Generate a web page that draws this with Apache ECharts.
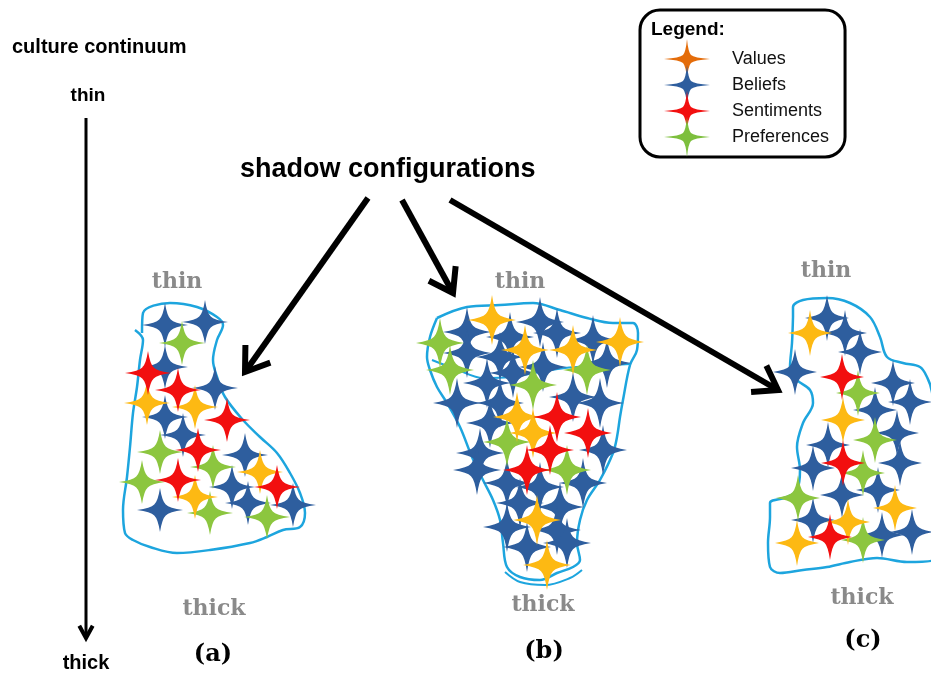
<!DOCTYPE html>
<html><head><meta charset="utf-8">
<script src="https://cdn.jsdelivr.net/npm/echarts@6/dist/echarts.min.js"></script>
<style>html,body{margin:0;padding:0;background:#fff}#c{width:931px;height:673px}</style>
</head><body><div id="c"></div>
<script>
// ---------------- data ----------------
const categories = ['Values', 'Beliefs', 'Sentiments', 'Preferences'];
const panelNames = ['(a)', '(b)', '(c)'];

// star positions per category, per panel (a, b, c)
const valuesA = [[147,403],[195,407],[260,472],[195,497]];
const valuesB = [[492,320],[525,350],[573,350],[620,342],[517,417],[533,433],[537,520],[547,565]];
const valuesC = [[810,333],[843,420],[895,508],[848,522],[797,543]];

const beliefsA = [[165,325],[205,322],[165,367],[215,388],[165,417],[183,435],[245,455],[232,487],[248,503],[293,505],[160,510]];
const beliefsB = [[467,332],[510,337],[540,322],[557,333],[593,340],[467,353],[500,357],[487,383],[513,373],[543,367],[607,363],[457,403],[500,403],[573,397],[600,403],[490,423],[480,453],[603,450],[477,470],[507,483],[540,487],[583,483],[520,503],[560,507],[507,527],[557,530],[527,547],[567,543]];
const beliefsC = [[827,318],[845,333],[860,352],[795,372],[893,383],[910,402],[875,410],[897,433],[828,445],[813,468],[900,463],[842,495],[878,490],[813,520],[912,532],[882,535]];

const sentimentsA = [[148,373],[178,390],[227,420],[198,450],[178,480],[277,487]];
const sentimentsB = [[557,417],[588,433],[550,450],[527,470]];
const sentimentsC = [[842,377],[843,463],[830,537]];

const preferencesA = [[182,343],[160,452],[213,467],[142,482],[210,513],[267,517]];
const preferencesB = [[440,343],[450,370],[533,385],[587,370],[507,442],[567,470]];
const preferencesC = [[858,393],[875,440],[863,473],[798,498],[863,540]];

// hand-drawn outlines of the three shadow configurations
const blobA = [[142,333],[143,313],[170,303],[197,307],[217,317],[223,325],[217,340],[213,360],[217,377],[225,397],[243,420],[260,437],[277,453],[290,473],[300,493],[305,513],[300,527],[283,530],[267,537],[250,543],[210,550],[177,553],[150,547],[133,540],[125,533],[123,510],[127,477],[130,447],[133,413],[137,387],[140,360],[143,340],[135,330]];
const blobB = [[437,318],[467,307],[500,305],[533,303],[560,310],[587,318],[613,323],[633,323],[638,333],[637,350],[630,365],[623,400],[620,417],[617,437],[613,453],[600,480],[587,500],[580,520],[577,543],[580,560],[573,567],[557,573],[540,580],[520,577],[507,567],[503,543],[500,520],[493,500],[483,480],[472,457],[460,427],[447,403],[437,387],[430,370],[427,357],[430,337],[437,318]];
const blobBInner = [[432,360],[458,370],[483,378],[510,377],[540,372],[565,368],[595,366],[630,364]];
const blobBBottom = [[505,572],[520,582],[545,585],[570,578],[582,570]];
const blobC = [[793,317],[793,307],[803,300],[827,298],[850,303],[870,317],[880,337],[887,357],[903,363],[920,367],[927,377],[932,392],[935,430],[935,520],[933,560],[907,562],[877,558],[850,562],[827,567],[803,570],[780,573],[770,567],[768,543],[770,517],[770,503],[787,497],[797,490],[800,470],[797,447],[803,423],[813,403],[810,390],[797,380],[790,367],[792,343],[793,317]];

// arrows: start and tip
const arrowStarts = [[368,198],[402,200],[450,200]];
const arrowTips   = [[245,372],[453,293],[778,390]];
const axisArrowStart = [86,118];
const axisArrowTip   = [86,638];

// ---------------- styles ----------------
const chartColors  = {Values:'#FDB913', Beliefs:'#2E5E9E', Sentiments:'#F20F0F', Preferences:'#8CC63F'};
const legendColors = {Values:'#E46C0A', Beliefs:'#2E5E9E', Sentiments:'#F20F0F', Preferences:'#7DBF3D'};
const starSizes = [[46,44],[48,50],[44,46]];
const starPath = 'path://M0,-10 Q0.9,-4 2.5,-2.5 Q4,-0.9 10,0 Q4,0.9 2.5,2.5 Q0.9,4 0,10 Q-0.9,4 -2.5,2.5 Q-4,0.9 -10,0 Q-4,-0.9 -2.5,-2.5 Q-0.9,-4 0,-10 Z';
const legendStar = 'path://M0,-20 Q1.2,-7 4,-4 Q7,-1.2 23,0 Q7,1.2 4,4 Q1.2,7 0,20 Q-1.2,7 -4,4 Q-7,1.2 -23,0 Q-7,-1.2 -4,-4 Q-1.2,-7 0,-20 Z';
const outlineColor = '#1DA5DE';

const seriesData = {
  Values: [valuesA, valuesB, valuesC],
  Beliefs: [beliefsA, beliefsB, beliefsC],
  Sentiments: [sentimentsA, sentimentsB, sentimentsC],
  Preferences: [preferencesA, preferencesB, preferencesC]
};

function tag(name) {
  const out = [];
  seriesData[name].forEach((arr, p) => arr.forEach(pt => out.push([pt[0], pt[1], p])));
  return out;
}

function head(start, tip, len, ang) {
  const dx = start[0] - tip[0], dy = start[1] - tip[1];
  const d = Math.hypot(dx, dy), ux = dx / d, uy = dy / d;
  const r = a => [tip[0] + len * (ux * Math.cos(a) - uy * Math.sin(a)),
                  tip[1] + len * (ux * Math.sin(a) + uy * Math.cos(a))];
  return [r(ang), tip, r(-ang)];
}

const arrowLines = [];
arrowStarts.forEach((s, i) => {
  arrowLines.push({coords: [s, arrowTips[i]]});
  arrowLines.push({coords: head(s, arrowTips[i], 27, 0.6)});
});

const order = ['Beliefs', 'Preferences', 'Values', 'Sentiments'];
const series = [];

function outline(pts, w) {
  return {type:'line', data: pts, smooth: 0.35, symbol:'none', silent:true, clip:true,
          lineStyle:{color: outlineColor, width: w || 2.5}, z: 1};
}
series.push(outline(blobA), outline(blobB), outline(blobBInner, 2), outline(blobBBottom, 2), outline(blobC));

order.forEach(name => {
  series.push({
    name, type:'scatter', data: tag(name), symbol: starPath,
    symbolSize: v => starSizes[v[2]],
    itemStyle:{color: chartColors[name], opacity:1}, z: 3, silent:true
  });
});

series.push({
  type:'lines', coordinateSystem:'cartesian2d', polyline:true, silent:true, z: 5,
  data: arrowLines,
  lineStyle:{color:'#000', width:6, opacity:1, curveness:0, cap:'butt', join:'miter'}
});
series.push({
  type:'lines', coordinateSystem:'cartesian2d', polyline:true, silent:true, z: 5,
  data: [{coords:[axisArrowStart, axisArrowTip]}],
  lineStyle:{color:'#000', width:3, opacity:1, curveness:0, cap:'butt'}
});
series.push({
  type:'lines', coordinateSystem:'cartesian2d', polyline:true, silent:true, z: 5,
  data: [{coords: head(axisArrowStart, axisArrowTip, 14, 0.5)}],
  lineStyle:{color:'#000', width:4, opacity:1, curveness:0, cap:'butt', join:'miter'}
});

const serif = '"DejaVu Serif", "Liberation Serif", serif';
const sans = '"Liberation Sans", Arial, sans-serif';
function txt(text, x, y, font, fill, align) {
  return {type:'text', x, y, silent:true, z: 10,
          style:{text, font, fill: fill || '#000', align: align || 'center', verticalAlign:'middle'}};
}
const grayFont = 'bold 22px ' + serif, gray = '#8A8A8A';
const tagFont = 'bold 24px ' + serif;

const option = {
  animation:false,
  backgroundColor:'#fff',
  grid:{left:0, right:0, top:0, bottom:0},
  xAxis:{type:'value', min:0, max:931, show:false},
  yAxis:{type:'value', min:0, max:673, inverse:true, show:false},
  legend:{
    left:640, top:10, orient:'vertical', selectedMode:false,
    data: categories.map(n => ({name:n, icon: legendStar, itemStyle:{color: legendColors[n]}})),
    itemWidth:46, itemHeight:40, itemGap:-14,
    padding:[29,16,0,24],
    borderColor:'#000', borderWidth:3, borderRadius:20,
    textStyle:{fontFamily: sans, fontSize:18, color:'#111', padding:[0,0,0,17]}
  },
  graphic: [
    txt('culture continuum', 12, 47, 'bold 20px ' + sans, '#000', 'left'),
    txt('thin', 88, 96, 'bold 19px ' + sans),
    txt('thick', 86, 663, 'bold 20px ' + sans),
    txt('shadow configurations', 240, 170, 'bold 27px ' + sans, '#000', 'left'),
    txt('Legend:', 651, 30, 'bold 19px ' + sans, '#000', 'left'),
    txt('thin', 177, 282, grayFont, gray),
    txt('thin', 520, 282, grayFont, gray),
    txt('thin', 826, 271, grayFont, gray),
    txt('thick', 214, 609, grayFont, gray),
    txt('thick', 543, 605, grayFont, gray),
    txt('thick', 862, 598, grayFont, gray),
    txt(panelNames[0], 213, 655, tagFont),
    txt(panelNames[1], 544, 652, tagFont),
    txt(panelNames[2], 863, 641, tagFont)
  ],
  series
};

const chart = echarts.init(document.getElementById('c'));
chart.setOption(option);
</script>
</body></html>
